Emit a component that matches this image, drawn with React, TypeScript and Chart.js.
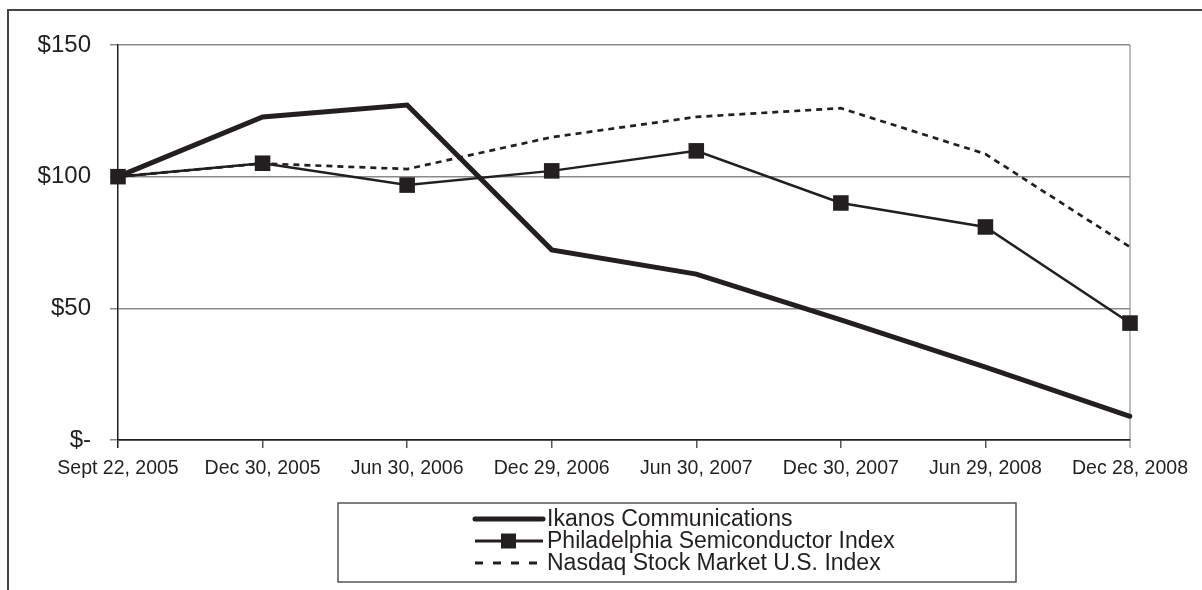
import React, { useEffect, useRef } from "react";
import { Chart, registerables } from "chart.js";

Chart.register(...registerables);

const categories = [
  "Sept 22, 2005",
  "Dec 30, 2005",
  "Jun 30, 2006",
  "Dec 29, 2006",
  "Jun 30, 2007",
  "Dec 30, 2007",
  "Jun 29, 2008",
  "Dec 28, 2008",
];
const ikanosValues = [100, 122.7, 127.2, 72.2, 63, 45.6, 27.7, 9.0];
const soxValues = [100, 105.1, 96.8, 102.2, 109.8, 90.0, 80.9, 44.4];
const nasdaqValues = [100, 105.0, 102.9, 115.0, 122.7, 126.0, 108.6, 73.3];
const seriesNames = [
  "Ikanos Communications",
  "Philadelphia Semiconductor Index",
  "Nasdaq Stock Market U.S. Index",
];
const yTickValues = [0, 50, 100, 150];
const yTickLabels = ["$-", "$50", "$100", "$150"];

const INK = "#231f20";
const FONT = "'Liberation Sans', Arial, Helvetica, sans-serif";

const frameBorder = {
  id: "frameBorder",
  beforeDraw(chart: any) {
    const ctx = chart.ctx;
    ctx.save();
    ctx.strokeStyle = "#444";
    ctx.lineWidth = 2;
    ctx.beginPath();
    ctx.moveTo(8, 600);
    ctx.lineTo(8, 10);
    ctx.lineTo(1210, 10);
    ctx.stroke();
    ctx.restore();
  },
};

const boxLegend = {
  id: "boxLegend",
  afterDraw(chart: any) {
    const ctx = chart.ctx;
    const left = 338, top = 503, right = 1016, bottom = 582;
    ctx.save();
    ctx.strokeStyle = "#555";
    ctx.lineWidth = 1.5;
    ctx.strokeRect(left, top, right - left, bottom - top);
    const rows = [519, 541, 563];
    const x0 = 475, x1 = 543;
    chart.data.datasets.forEach((ds: any, i: number) => {
      const y = rows[i];
      ctx.strokeStyle = ds.borderColor;
      ctx.lineWidth = ds.legendWidth;
      ctx.lineCap = i === 0 ? "round" : "butt";
      ctx.setLineDash(ds.legendDash || []);
      ctx.beginPath();
      ctx.moveTo(x0, y);
      ctx.lineTo(x1, y);
      ctx.stroke();
      ctx.setLineDash([]);
      if (ds.pointStyle === "rect" && ds.pointRadius > 0) {
        ctx.fillStyle = ds.borderColor;
        ctx.fillRect(501, y - 7.5, 15, 15);
      }
      ctx.fillStyle = INK;
      ctx.font = `23px ${FONT}`;
      ctx.textBaseline = "middle";
      ctx.textAlign = "left";
      ctx.fillText(ds.label, 547, y + 1);
    });
    ctx.restore();
  },
};

export default function App() {
  const ref = useRef<HTMLCanvasElement | null>(null);

  useEffect(() => {
    if (!ref.current) return;
    const last = categories.length - 1;
    const chart = new Chart(ref.current, {
      type: "line",
      data: {
        labels: categories,
        datasets: [
          {
            label: seriesNames[0],
            data: ikanosValues,
            borderColor: INK,
            backgroundColor: INK,
            borderWidth: 5,
            pointRadius: 0,
            tension: 0,
            borderCapStyle: "round",
            legendWidth: 5,
          } as any,
          {
            label: seriesNames[1],
            data: soxValues,
            borderColor: INK,
            backgroundColor: INK,
            borderWidth: 2.5,
            pointStyle: "rect",
            pointRadius: 11,
            pointBorderWidth: 0,
            pointBackgroundColor: INK,
            tension: 0,
            legendWidth: 3,
          } as any,
          {
            label: seriesNames[2],
            data: nasdaqValues,
            borderColor: INK,
            backgroundColor: INK,
            borderWidth: 2.7,
            borderDash: [6, 5],
            pointRadius: 0,
            tension: 0,
            legendWidth: 3,
            legendDash: [8, 10],
          } as any,
        ],
      },
      options: {
        responsive: false,
        animation: false,
        layout: { padding: { left: 0, right: 72, top: 45, bottom: 0 } },
        plugins: {
          legend: { display: false },
          tooltip: { enabled: false },
        },
        scales: {
          x: {
            offset: false,
            grid: {
              color: (c: any) => (c.index === last ? "#bdbdbd" : "rgba(0,0,0,0)"),
              tickColor: (c: any) =>
                c.index === 0 ? INK : c.index === last ? "#bdbdbd" : "#555",
              lineWidth: (c: any) => (c.index === last ? 2 : 1.5),
              tickLength: 8,
              drawOnChartArea: true,
            },
            border: { color: INK, width: 1.5 },
            ticks: {
              color: INK,
              font: { size: 19.5, family: FONT },
              padding: 9,
              maxRotation: 0,
              autoSkip: false,
            },
            afterFit: (s: any) => {
              s.height = 150;
              s.paddingLeft = 0;
              s.paddingRight = 0;
            },
          },
          y: {
            min: 0,
            max: 150,
            afterBuildTicks: (s: any) => {
              s.ticks = yTickValues.map((v) => ({ value: v }));
            },
            grid: {
              color: (c: any) => (c.tick && c.tick.value === 0 ? INK : "#8a8a8a"),
              tickColor: "#8a8a8a",
              lineWidth: 1.5,
              tickLength: 8,
            },
            border: { color: INK, width: 1.5 },
            ticks: {
              color: INK,
              font: { size: 24, family: FONT },
              padding: 19,
              callback: (v: any) => {
                const i = yTickValues.indexOf(Number(v));
                return i >= 0 ? yTickLabels[i] : "";
              },
            },
            afterFit: (s: any) => {
              s.width = 118;
              s.paddingTop = 0;
              s.paddingBottom = 0;
            },
          },
        },
      },
      plugins: [frameBorder, boxLegend],
    });
    return () => chart.destroy();
  }, []);

  return (
    <div
      style={{
        position: "fixed",
        left: 0,
        top: 0,
        width: 1202,
        height: 590,
        background: "#fff",
      }}
    >
      <canvas ref={ref} width={1202} height={590} style={{ display: "block" }} />
    </div>
  );
}
